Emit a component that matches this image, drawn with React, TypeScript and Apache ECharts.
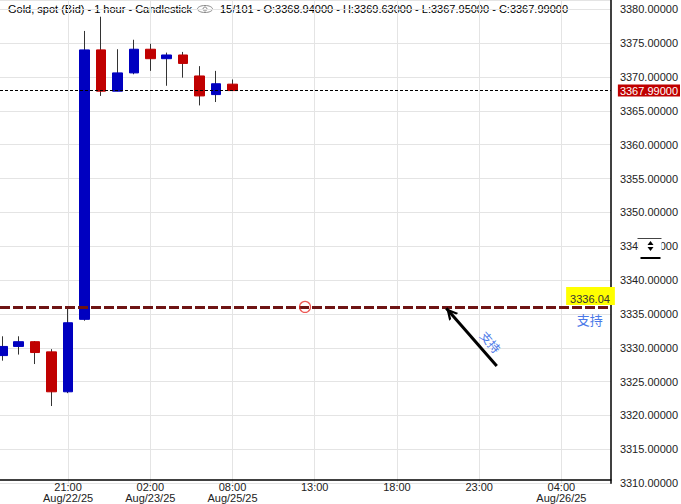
import React, { useEffect, useRef } from 'react';
import * as echarts from 'echarts';

// candle slots (hourly bars, slot = bar number on the time axis)
const slots = [1, 2, 3, 4, 5, 6, 7, 8, 9, 10, 11, 12, 13, 14, 15];
const opens = [3328.85, 3330.2, 3330.9, 3329.4, 3323.5, 3334.2, 3374.0, 3367.9, 3370.6, 3374.1, 3372.7, 3373.25, 3370.15, 3367.4, 3368.94];
const closes = [3330.2, 3330.9, 3329.3, 3323.5, 3333.7, 3374.0, 3367.9, 3370.6, 3374.1, 3372.7, 3373.25, 3372.0, 3367.2, 3369.0, 3367.99];
const lows = [3328.1, 3329.0, 3327.6, 3321.4, 3323.3, 3334.0, 3367.2, 3367.9, 3370.4, 3370.9, 3368.7, 3369.9, 3365.8, 3366.3, 3367.95];
const highs = [3331.7, 3331.7, 3331.0, 3329.8, 3336.1, 3376.8, 3378.9, 3374.1, 3375.5, 3374.9, 3373.6, 3373.7, 3371.6, 3370.9, 3369.63];

const tickSlots = [5, 10, 15, 20, 25, 30, 35];
const tickLabels = ['21:00\nAug/22/25', '02:00\nAug/23/25', '08:00\nAug/25/25', '13:00', '18:00', '23:00', '04:00\nAug/26/25'];

const supportLevel = 3336.04;
const lastPrice = 3367.99;
const anchorPoint = [19.41, 3336.04];
const arrowFrom = [31.07, 3327.31];
const arrowTo = [28.0, 3335.83];
const arrowTextAt = [30.72, 3330.9];

const titleLeft = 'Gold, spot (Bid) - 1 hour - Candlestick';
const titleRight = '15/101 - O:3368.94000 - H:3369.63000 - L:3367.95000 - C:3367.99000';

const FONT = '"Liberation Sans", Arial, sans-serif';
const CJK = '"Noto Sans CJK SC", sans-serif';

const chevron = 'path://M6,0 L12,11.3 L9.4,11.3 L6,4.6 L2.6,11.3 L0,11.3 Z M6,-11.3 L6.001,-11.3 L6,-11.299 Z';

export default function App() {
  const ref = useRef<HTMLDivElement>(null);
  useEffect(() => {
    if (!ref.current) return;
    const chart = echarts.init(ref.current, null, { renderer: 'svg' });
    const wickData = slots.map((s, i) => [s, opens[i], closes[i], lows[i], highs[i]]);
    const bodyData = slots.map((s, i) => [s, opens[i], closes[i], Math.min(opens[i], closes[i]), Math.max(opens[i], closes[i])]);
    chart.setOption({
      animation: false,
      backgroundColor: '#ffffff',
      textStyle: { fontFamily: FONT },
      grid: { left: 0, right: 68, top: 0, bottom: 20.8 },
      xAxis: {
        type: 'value',
        min: 0.861,
        max: 38.01,
        offset: -3,
        axisLine: { show: true, onZero: false, lineStyle: { color: '#000', width: 1.5 } },
        axisTick: { show: false, customValues: tickSlots },
        axisLabel: {
          customValues: tickSlots,
          color: '#222',
          fontSize: 11,
          lineHeight: 11,
          margin: 1,
          fontFamily: FONT,
          formatter: (v: number) => {
            const k = tickSlots.indexOf(Math.round(v));
            return k >= 0 ? tickLabels[k] : '';
          },
        },
        splitLine: { show: false },
      },
      yAxis: {
        type: 'value',
        position: 'right',
        min: 3310,
        max: 3381.37,
        interval: 5,
        axisLine: { show: true, lineStyle: { color: '#000', width: 1.5 } },
        axisTick: { show: false },
        axisLabel: {
          showMaxLabel: false,
          color: '#222',
          fontSize: 11,
          margin: 9,
          fontFamily: FONT,
          formatter: (v: number) => v.toFixed(5),
        },
        splitLine: { show: true, lineStyle: { color: '#e4e4e4', width: 1 } },
      },
      series: [
        {
          type: 'candlestick',
          silent: true,
          barWidth: 1,
          data: wickData,
          itemStyle: { color: '#333', color0: '#333', borderColor: '#333', borderColor0: '#333', borderWidth: 1 },
          markLine: {
            silent: true,
            symbol: 'none',
            animation: false,
            z: 0,
            label: { show: false },
            lineStyle: { color: '#e4e4e4', width: 1, type: 'solid' },
            data: tickSlots.map((s) => ({ xAxis: s })),
          },
        },
        {
          type: 'candlestick',
          silent: true,
          barWidth: 10,
          data: bodyData,
          itemStyle: { color: '#0000c0', color0: '#c00000', borderColor: '#0000c0', borderColor0: '#c00000', borderWidth: 1 },
          markLine: {
            silent: true,
            symbol: 'none',
            animation: false,
            data: [
              {
                yAxis: lastPrice,
                lineStyle: { color: '#000', width: 1, type: [3, 2] },
                label: {
                  show: true,
                  position: 'end',
                  distance: 7,
                  formatter: lastPrice.toFixed(5),
                  backgroundColor: '#c00000',
                  color: '#fff',
                  fontSize: 11,
                  fontFamily: FONT,
                  padding: [1, 2, 0, 2],
                },
              },
              {
                yAxis: supportLevel,
                lineStyle: { color: '#6e1414', width: 3, type: [10, 3] },
                label: {
                  show: true,
                  position: 'insideEndTop',
                  distance: [-4, 2],
                  formatter: supportLevel.toFixed(2),
                  backgroundColor: '#ffff00',
                  color: '#333',
                  fontSize: 11,
                  fontFamily: FONT,
                  padding: [7, 5, 0, 4],
                },
              },
              {
                yAxis: supportLevel,
                lineStyle: { color: 'rgba(0,0,0,0)', width: 0 },
                label: {
                  show: true,
                  position: 'insideEndBottom',
                  distance: [8, 6],
                  formatter: '支持',
                  color: '#4a78e8',
                  fontSize: 13,
                  fontFamily: CJK,
                },
              },
              [
                { coord: arrowFrom, symbol: 'none', lineStyle: { color: '#000', width: 3, type: 'solid' }, label: { show: false } },
                { coord: arrowTo, symbol: chevron, symbolSize: [12, 22.6] },
              ],
            ],
          },
          markPoint: {
            silent: true,
            animation: false,
            data: [
              {
                coord: arrowTextAt,
                symbol: 'circle',
                symbolSize: 0,
                itemStyle: { color: 'transparent' },
                label: {
                  show: true,
                  position: 'inside',
                  formatter: '支持',
                  rotate: -49,
                  color: '#4a78e8',
                  fontSize: 12,
                  fontFamily: CJK,
                },
              },
            ],
          },
        },
        {
          type: 'scatter',
          silent: true,
          symbol: 'circle',
          symbolSize: 11,
          z: 5,
          data: [anchorPoint],
          itemStyle: { color: 'rgba(0,0,0,0)', borderColor: '#e8302a', borderWidth: 1.2 },
        },
      ],
      graphic: [
        {
          type: 'text',
          left: 8,
          top: 3,
          style: { text: titleLeft, fill: '#000', fontSize: 11, fontFamily: FONT },
        },
        {
          type: 'group',
          left: 195,
          top: 3,
          children: [
            { type: 'ellipse', shape: { cx: 8, cy: 5, rx: 7.5, ry: 3.5 }, style: { fill: 'none', stroke: '#888', lineWidth: 1 } },
            { type: 'circle', shape: { cx: 8, cy: 5, r: 2 }, style: { fill: 'none', stroke: '#888', lineWidth: 1 } },
          ],
        },
        {
          type: 'text',
          left: 220,
          top: 3,
          style: { text: titleRight, fill: '#000', fontSize: 11, fontFamily: FONT },
        },
        {
          type: 'group',
          left: 635,
          top: 236,
          z: 100,
          children: [
            { type: 'rect', z: 100, shape: { x: 1, y: 2, width: 23, height: 13 }, style: { fill: '#fff' } },
            { type: 'line', z: 101, shape: { x1: 0, y1: 1.5, x2: 24, y2: 1.5 }, style: { stroke: '#444', lineWidth: 1 } },
            { type: 'polygon', z: 101, shape: { points: [[13, 4], [16, 8], [10, 8]] }, style: { fill: '#000' } },
            { type: 'polygon', z: 101, shape: { points: [[10, 10], [16, 10], [13, 14]] }, style: { fill: '#000' } },
            { type: 'line', z: 101, shape: { x1: 3, y1: 21, x2: 23, y2: 21 }, style: { stroke: '#000', lineWidth: 2 } },
          ],
        },
      ],
    });
    return () => chart.dispose();
  }, []);
  return (
    <div
      ref={ref}
      style={{ position: 'fixed', left: 0, top: 0, width: 681, height: 504, background: '#fff' }}
    />
  );
}
